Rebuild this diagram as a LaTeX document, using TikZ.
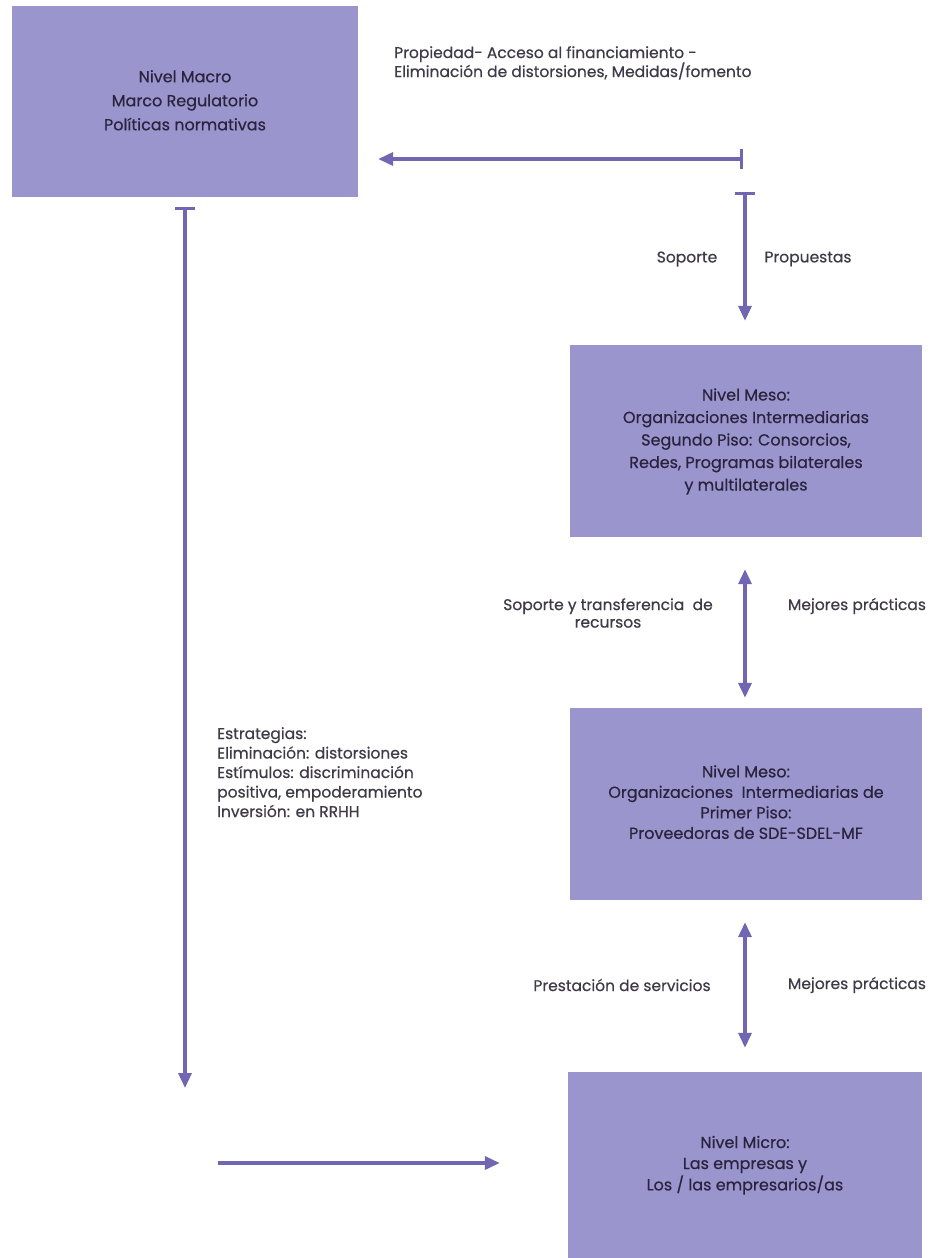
\documentclass[tikz,border=0pt]{standalone}
\usepackage{fontspec}
\setmainfont{Poppins}[FakeBold=0.5]
\usetikzlibrary{arrows.meta}
\definecolor{boxfill}{RGB}{155,149,205}
\definecolor{arrowcol}{RGB}{112,102,178}
\definecolor{txt}{RGB}{62,58,72}
\definecolor{boxtxt}{RGB}{40,36,62}
\newcommand\lvtxt[2]{\raisebox{#1}{\begin{tabular}{@{}c@{}}#2\end{tabular}}}
\tikzset{
  level/.style={fill=boxfill, draw=none, text=boxtxt,
    font=\fontsize{16}{22}\selectfont, inner sep=0pt},
  lbl/.style={text=txt, font=\fontsize{15.5}{19}\selectfont, inner sep=0pt},
  conn/.style={draw=arrowcol, line width=3.4pt},
  tip/.style={-{Triangle[length=15pt,width=13pt]}},
  dtip/.style={{Triangle[length=15pt,width=13pt]}-{Triangle[length=15pt,width=13pt]}},
  bartip/.style={{Bar[width=20pt,line width=3pt]}-{Triangle[length=15pt,width=13pt]}},
}
\begin{document}
\begin{tikzpicture}[x=1pt,y=-1pt]
\useasboundingbox[fill=white] (0,0) rectangle (931,1258);

\node[level, minimum width=346pt, minimum height=191pt, font=\fontsize{16}{24}\selectfont] (macro) at (185,101.5)
  {\lvtxt{8pt}{Nivel Macro\\Marco Regulatorio\\Políticas normativas}};
\node[level, minimum width=352pt, minimum height=192pt, font=\fontsize{16}{22.5}\selectfont] (meso1) at (746,441)
  {\lvtxt{6pt}{Nivel Meso:\\Organizaciones Intermediarias\\Segundo Piso: Consorcios,\\Redes, Programas bilaterales\\y multilaterales}};
\node[level, minimum width=352pt, minimum height=192pt, font=\fontsize{16}{20.5}\selectfont] (meso2) at (746,804)
  {\lvtxt{9pt}{Nivel Meso:\\Organizaciones\ \ Intermediarias de\\Primer Piso:\\Proveedoras de SDE-SDEL-MF}};
\node[level, minimum width=354pt, minimum height=186pt, font=\fontsize{16}{21}\selectfont] (micro) at (745,1165)
  {\lvtxt{-4pt}{Nivel Micro:\\Las empresas y\\Los / las empresarios/as}};

% top label
\node[lbl, align=left, anchor=north west] (lprop) at (394,46)
  {Propiedad- Acceso al financiamiento -\\Eliminación de distorsiones, Medidas/fomento};

% top horizontal arrow
\coordinate (hstart) at (743,159);
\draw[conn, bartip, shorten >=20pt] (hstart) -- (hstart -| macro.east);

% down arrow to meso1
\coordinate (dstart) at (745,192);
\draw[conn, bartip, shorten >=24pt] (dstart) -- (dstart |- meso1.north);
\node[lbl, anchor=center] (lsop) at (687,259) {Soporte};
\node[lbl, anchor=center] (lprop2) at (808,259) {Propuestas};

% meso1 <-> meso2
\draw[conn, dtip, shorten <=32pt, shorten >=10pt] (meso1.south -| 745,0) -- (meso2.north -| 745,0);
\node[lbl, align=center, font=\fontsize{15.5}{17.5}\selectfont] (lsoptr) at (608,613) {Soporte y transferencia\ \ de\\recursos};
\node[lbl] (lmej1) at (857,606) {Mejores prácticas};

% meso2 <-> micro
\draw[conn, dtip, shorten <=22pt, shorten >=24pt] (meso2.south -| 745,0) -- (micro.north -| 745,0);
\node[lbl] (lprest) at (622,985) {Prestación de servicios};
\node[lbl] (lmej2) at (857,985) {Mejores prácticas};

% long left arrow
\coordinate (lend) at (185,1088);
\draw[conn, bartip, shorten <=10pt] (macro.south) -- (lend);
\node[lbl, align=left, anchor=north west, font=\fontsize{15.5}{19.5}\selectfont] (lestr) at (217,727)
  {Estrategias:\\Eliminación: distorsiones\\Estímulos: discriminación\\positiva, empoderamiento\\Inversión: en RRHH};

% bottom horizontal arrow
\coordinate (bstart) at (218,1163);
\draw[conn, tip, shorten >=68pt] (bstart) -- (bstart -| micro.west);
\end{tikzpicture}
\end{document}
